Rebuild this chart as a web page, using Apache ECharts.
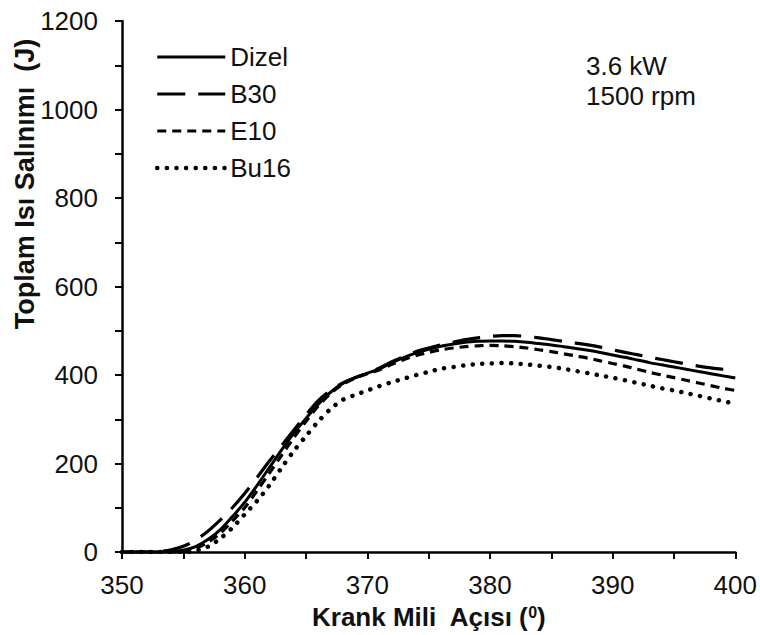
<!DOCTYPE html>
<html>
<head>
<meta charset="utf-8">
<script src="https://cdn.jsdelivr.net/npm/echarts@6/dist/echarts.min.js"></script>
<style>
  html, body { margin: 0; padding: 0; background: #fff; }
  #chart { width: 760px; height: 635px; }
</style>
</head>
<body>
<div id="chart"></div>
<script>
// krank mili açısı (derece)
const angles = [
  350, 351, 352, 353, 354, 355, 356, 357, 358, 359,
  360, 361, 362, 363, 364, 365, 366, 367, 368, 369,
  370, 371, 372, 373, 374, 375, 376, 377, 378, 379,
  380, 381, 382, 383, 384, 385, 386, 387, 388, 389,
  390, 391, 392, 393, 394, 395, 396, 397, 398, 399, 400
];

// toplam ısı salınımı (J)
const dizel = [
  0, 0, 0, 0, 1, 4, 12, 28, 50, 80,
  112, 150, 190, 230, 268, 302, 334, 361, 381, 394,
  404, 414, 428, 440, 450, 458, 465, 470, 474, 476,
  477, 477, 476, 474, 471, 468, 464, 460, 456, 451,
  445, 440, 434, 428, 423, 418, 413, 408, 403, 398, 393
];
const b30 = [
  0, 0, 0, 1, 5, 13, 27, 47, 72, 100,
  132, 168, 205, 240, 275, 310, 342, 365, 382, 394,
  404, 416, 430, 442, 453, 461, 468, 474, 480, 484,
  487, 489, 489, 487, 484, 480, 476, 472, 468, 463,
  457, 451, 446, 440, 435, 430, 425, 420, 416, 413, 410
];
const e10 = [
  0, 0, 0, 0, 0, 2, 8, 22, 42, 70,
  100, 138, 178, 218, 258, 295, 330, 358, 379, 393,
  403, 412, 424, 435, 444, 451, 457, 461, 464, 466,
  467, 466, 464, 461, 457, 453, 448, 443, 438, 432,
  426, 420, 413, 406, 400, 394, 388, 382, 376, 370, 365
];
const bu16 = [
  0, 0, 0, 0, 0, 0, 3, 12, 30, 55,
  85, 115, 150, 190, 228, 262, 295, 323, 344, 355,
  365, 375, 384, 392, 400, 407, 414, 418, 422, 425,
  426, 427, 426, 424, 421, 418, 414, 409, 404, 399,
  394, 388, 382, 376, 370, 365, 359, 353, 347, 341, 335
];

const seriesNames = ["Dizel", "B30", "E10", "Bu16"];
const notes = ["3.6 kW", "1500 rpm"];

const font = "Liberation Sans";
const pairs = (ys) => angles.map((a, i) => [a, ys[i]]);

// çizgi stilleri (seri sırasıyla)
const styles = [
  { type: "solid", width: 3 },
  { type: [28, 13], width: 3.2 },
  { type: [9, 6], width: 3.2 },
  { type: [0.1, 9.5], cap: "round", width: 4.5 },
];

const chart = echarts.init(document.getElementById("chart"), null, { renderer: "svg" });

chart.setOption({
  backgroundColor: "#fff",
  animation: false,
  grid: { left: 122, right: 22, top: 21, bottom: 82 },
  legend: {
    orient: "vertical",
    left: 150,
    top: 39,
    itemWidth: 68,
    itemHeight: 14,
    itemGap: 11,
    data: seriesNames.map((name, i) => ({
      name,
      lineStyle: Object.assign({ color: "#000" }, styles[i]),
    })),
    itemStyle: { opacity: 0 },
    textStyle: { fontFamily: font, fontSize: 26, color: "#111", lineHeight: 26 },
  },
  xAxis: {
    type: "value",
    min: 350,
    max: 400,
    interval: 5,
    name: "{a|Krank Mili  Açısı (}{s|0}{a|)}",
    nameLocation: "middle",
    nameGap: 52,
    nameTextStyle: {
      rich: {
        a: { fontFamily: font, fontSize: 26, fontWeight: "bold", color: "#111" },
        s: { fontFamily: font, fontSize: 16, fontWeight: "bold", color: "#111", verticalAlign: "top", padding: [0, 0, 10, 0] },
      },
    },
    axisLine: { lineStyle: { color: "#000", width: 2.5 } },
    axisTick: { inside: false, length: 7, lineStyle: { color: "#000", width: 2 } },
    axisLabel: {
      margin: 20,
      fontFamily: font,
      fontSize: 26,
      color: "#111",
      formatter: (v) => (v % 10 === 0 ? String(v) : ""),
    },
    splitLine: { show: false },
  },
  yAxis: {
    type: "value",
    min: 0,
    max: 1200,
    interval: 100,
    axisLine: { show: true, lineStyle: { color: "#000", width: 2.5 } },
    axisTick: { show: true, inside: false, length: 7, lineStyle: { color: "#000", width: 2 } },
    axisLabel: {
      margin: 24,
      fontFamily: font,
      fontSize: 26,
      color: "#111",
      formatter: (v) => (v % 200 === 0 ? String(v) : ""),
    },
    splitLine: { show: false },
  },
  graphic: [
    {
      type: "text",
      x: 25,
      y: 184,
      rotation: Math.PI / 2,
      style: {
        text: "Toplam Isı Salınımı  (J)",
        fontFamily: font,
        fontSize: 27,
        fontWeight: "bold",
        fill: "#111",
        textAlign: "center",
        textVerticalAlign: "middle",
      },
    },
    {
      type: "text",
      left: 586,
      top: 51,
      style: {
        text: notes.join("\n"),
        fontFamily: font,
        fontSize: 26,
        lineHeight: 30,
        fill: "#111",
      },
    },
  ],
  series: seriesNames.map((name, i) => ({
    name,
    type: "line",
    data: pairs([dizel, b30, e10, bu16][i]),
    symbol: "none",
    smooth: 0.3,
    lineStyle: Object.assign({ color: "#000" }, styles[i]),
    itemStyle: { color: "#000" },
    z: 3,
  })),
});
</script>
</body>
</html>
